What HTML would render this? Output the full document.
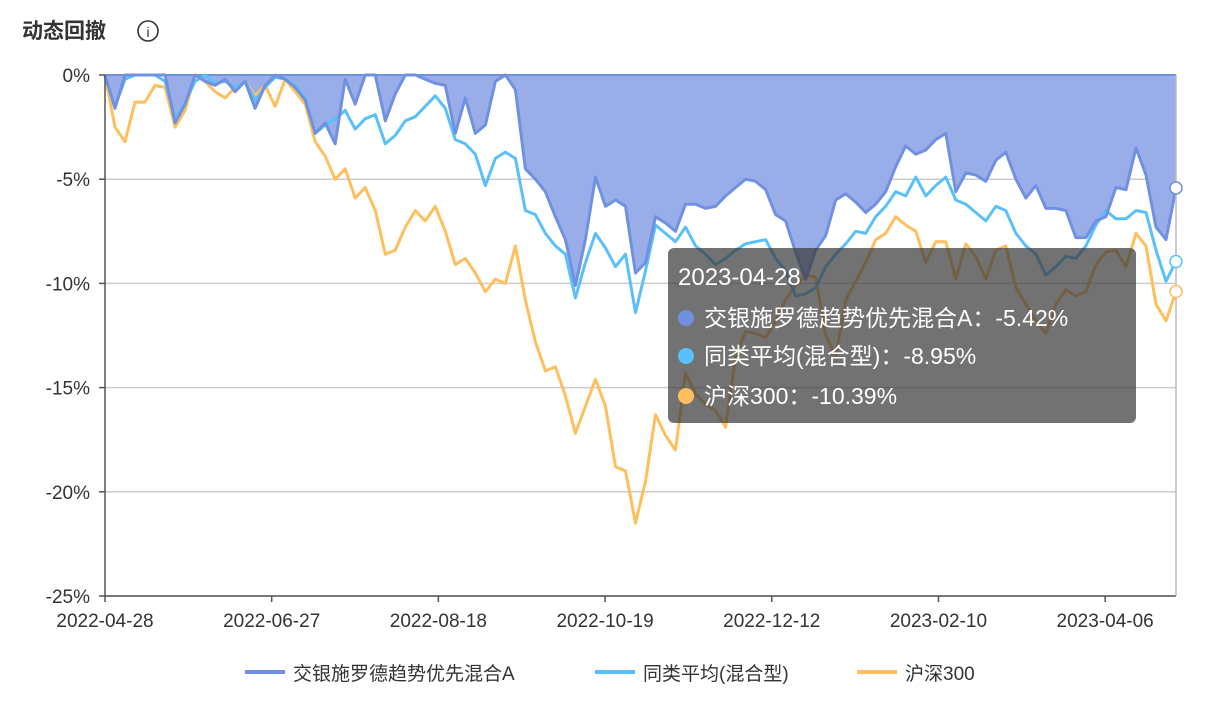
<!DOCTYPE html>
<html><head><meta charset="utf-8">
<style>
body{margin:0;background:#fff;width:1210px;height:710px;overflow:hidden;font-family:"Liberation Sans","Noto Sans CJK SC",sans-serif;}
svg text{font-family:"Liberation Sans","Noto Sans CJK SC",sans-serif;}
</style></head><body>
<svg id="chart" width="1210" height="710" xmlns="http://www.w3.org/2000/svg">
<text x="22" y="38" font-size="21" font-weight="bold" fill="#333">动态回撤</text>
<g><circle cx="148" cy="31" r="10" fill="none" stroke="#333" stroke-width="1.6"/><text x="148" y="37" font-size="14" text-anchor="middle" fill="#333">i</text></g>
<g id="grid"></g><g id="area"></g><g id="lines"></g><g id="axes"></g><g id="markers"></g>
<g>
<rect x="668" y="248" width="468" height="175" rx="6" fill="rgba(60,60,60,0.72)"/>
<text x="678" y="285" font-size="24" fill="#fff">2023-04-28</text>
<circle cx="686" cy="318" r="8" fill="#7090e0"/><text x="704" y="326" font-size="23" fill="#fff">交银施罗德趋势优先混合A：-5.42%</text>
<circle cx="686" cy="356" r="8" fill="#5ac0fa"/><text x="704" y="364" font-size="23" fill="#fff">同类平均(混合型)：-8.95%</text>
<circle cx="686" cy="396" r="8" fill="#ffbf5f"/><text x="704" y="404" font-size="23" fill="#fff">沪深300：-10.39%</text>
</g>
<g>
<g><rect x="245" y="670" width="40" height="4" fill="#7090e0"/><text x="293" y="680" font-size="19" fill="#333">交银施罗德趋势优先混合A</text></g>
<g><rect x="595" y="670" width="40" height="4" fill="#5ac0fa"/><text x="643" y="680" font-size="19" fill="#333">同类平均(混合型)</text></g>
<g><rect x="857" y="670" width="40" height="4" fill="#ffbf5f"/><text x="905" y="680" font-size="19" fill="#333">沪深300</text></g>
</g>
</svg>
<script>
const fund=[0,-1.6,0,0,0,0,0,-2.3,-1.4,0,-0.3,-0.5,-0.2,-0.8,-0.3,-1.6,-0.5,0,-0.2,-0.6,-1.2,-2.8,-2.3,-3.3,-0.2,-1.4,0,0,-2.2,-0.9,0,0,-0.2,-0.4,-0.5,-2.8,-1.1,-2.8,-2.4,-0.3,0,-0.7,-4.5,-5.0,-5.6,-6.8,-7.9,-10.1,-7.9,-4.9,-6.3,-6.0,-6.3,-9.5,-9.0,-6.8,-7.1,-7.5,-6.2,-6.2,-6.4,-6.3,-5.8,-5.4,-5.0,-5.1,-5.5,-6.7,-7.0,-8.5,-9.8,-8.4,-7.7,-6.0,-5.7,-6.1,-6.6,-6.2,-5.6,-4.4,-3.4,-3.8,-3.6,-3.1,-2.8,-5.6,-4.7,-4.8,-5.1,-4.1,-3.7,-5.0,-5.9,-5.3,-6.4,-6.4,-6.5,-7.8,-7.8,-7.0,-6.8,-5.4,-5.5,-3.5,-4.8,-7.3,-7.9,-5.42];
const peer=[0,-1.5,-0.2,0,0,0,-0.3,-2.1,-1.3,-0.3,0,-0.4,-0.3,-0.6,-0.3,-1.2,-0.6,-0.1,-0.2,-0.5,-1.1,-2.8,-2.4,-2.1,-1.7,-2.6,-2.1,-1.9,-3.3,-2.9,-2.2,-2.0,-1.5,-1.0,-1.6,-3.1,-3.3,-3.8,-5.3,-4.0,-3.7,-4.0,-6.5,-6.7,-7.6,-8.2,-8.6,-10.7,-9.0,-7.6,-8.3,-9.2,-8.6,-11.4,-9.4,-7.2,-7.6,-8.0,-7.3,-8.2,-8.6,-9.1,-8.8,-8.4,-8.1,-8.0,-7.9,-8.8,-9.4,-10.6,-10.5,-10.2,-9.2,-8.6,-8.1,-7.5,-7.6,-6.8,-6.3,-5.6,-5.8,-4.9,-5.8,-5.3,-4.9,-6.0,-6.2,-6.6,-7.0,-6.3,-6.5,-7.6,-8.2,-8.6,-9.6,-9.2,-8.7,-8.8,-8.2,-7.2,-6.5,-6.9,-6.9,-6.5,-6.6,-8.4,-9.9,-8.95];
const csi=[0,-2.5,-3.2,-1.3,-1.3,-0.5,-0.6,-2.5,-1.7,0,-0.3,-0.8,-1.1,-0.6,-0.3,-1.0,-0.5,-1.5,-0.2,-0.8,-1.4,-3.2,-3.9,-5.0,-4.5,-5.9,-5.4,-6.5,-8.6,-8.4,-7.3,-6.5,-7.0,-6.3,-7.5,-9.1,-8.8,-9.5,-10.4,-9.8,-10.0,-8.2,-10.8,-12.8,-14.2,-14.0,-15.4,-17.2,-15.9,-14.6,-15.9,-18.8,-19.0,-21.5,-19.5,-16.3,-17.3,-18.0,-14.3,-15.3,-15.8,-16.1,-16.9,-13.5,-12.3,-12.4,-12.6,-11.8,-10.8,-10.1,-9.6,-9.7,-12.5,-13.5,-10.8,-9.9,-9.0,-7.9,-7.6,-6.8,-7.2,-7.5,-9.0,-8.0,-8.0,-9.8,-8.1,-8.7,-9.8,-8.4,-8.2,-10.2,-11.0,-11.8,-12.4,-11.0,-10.3,-10.6,-10.4,-9.1,-8.5,-8.4,-9.2,-7.6,-8.2,-11.0,-11.8,-10.39];
const yTicks=[0,-5,-10,-15,-20,-25];
const yTickLabels=["0%","-5%","-10%","-15%","-20%","-25%"];
const xTickLabels=["2022-04-28","2022-06-27","2022-08-18","2022-10-19","2022-12-12","2023-02-10","2023-04-06"];
const xTickFrac=[0,40/257,80/257,120/257,160/257,200/257,240/257];

const X0=105,X1=1176,Y0=75,Y1=596;
const NS='http://www.w3.org/2000/svg';
function xOf(i,n){return X0+i*(X1-X0)/(n-1);}
function yOf(v){return Y0+(0-v)/25*(Y1-Y0);}
function mk(tag,attrs,parent){const e=document.createElementNS(NS,tag);for(const k in attrs)e.setAttribute(k,attrs[k]);document.getElementById(parent).appendChild(e);return e;}

yTicks.forEach((t,k)=>{
  if(t!==0){const g=mk('line',{x1:X0,x2:X1,y1:yOf(t),y2:yOf(t),stroke:'#ccc','stroke-width':1.5},'grid');
  
  }
  const tk=mk('line',{x1:X0-6,x2:X0,y1:yOf(t),y2:yOf(t),stroke:'#555','stroke-width':1.5},'axes');
  
  
  const tx=mk('text',{x:90,y:yOf(t)+7,'text-anchor':'end','font-size':19,fill:'#333'},'axes');
  
  
  tx.textContent=yTickLabels[k];
});
const ya=mk('line',{x1:X0,x2:X0,y1:Y0,y2:Y1,stroke:'#555','stroke-width':1.5},'axes');


const xa=mk('line',{x1:X0,x2:X1,y1:Y1,y2:Y1,stroke:'#555','stroke-width':1.5},'axes');


const rl=mk('line',{x1:X1,x2:X1,y1:Y0,y2:Y1,stroke:'#bbb','stroke-width':1.5},'axes');


xTickLabels.forEach((l,k)=>{
  const x=X0+xTickFrac[k]*(X1-X0);
  const tk=mk('line',{x1:x,x2:x,y1:Y1,y2:Y1+6,stroke:'#555','stroke-width':1.5},'axes');
  
  
  const tx=mk('text',{x:x,y:Y1+31,'text-anchor':'middle','font-size':19,fill:'#333'},'axes');
  
  
  tx.textContent=l;
});
function pts(arr){return arr.map((v,i)=>xOf(i,arr.length).toFixed(1)+','+yOf(v).toFixed(1)).join(' ');}
const ar=mk('polygon',{points:X0+','+Y0+' '+pts(fund)+' '+X1+','+Y0,fill:'#99aee8'},'area');


const zl=mk('line',{x1:X0,x2:X1,y1:Y0,y2:Y0,stroke:'#7090e0','stroke-width':2},'area');


[[csi,'#ffbf5f','csi300-line'],[peer,'#5ac0fa','peer-line'],[fund,'#7090e0','fund-line']].forEach(([a,c,n])=>{
  const p=mk('polyline',{points:pts(a),fill:'none',stroke:c,'stroke-width':3,'stroke-linejoin':'round'},'lines');
  
  
  const m=mk('circle',{cx:xOf(a.length-1,a.length),cy:yOf(a[a.length-1]),r:6,fill:'#fff',stroke:c,'stroke-width':1.5},'markers');
  
  
});
</script>
</body></html>
